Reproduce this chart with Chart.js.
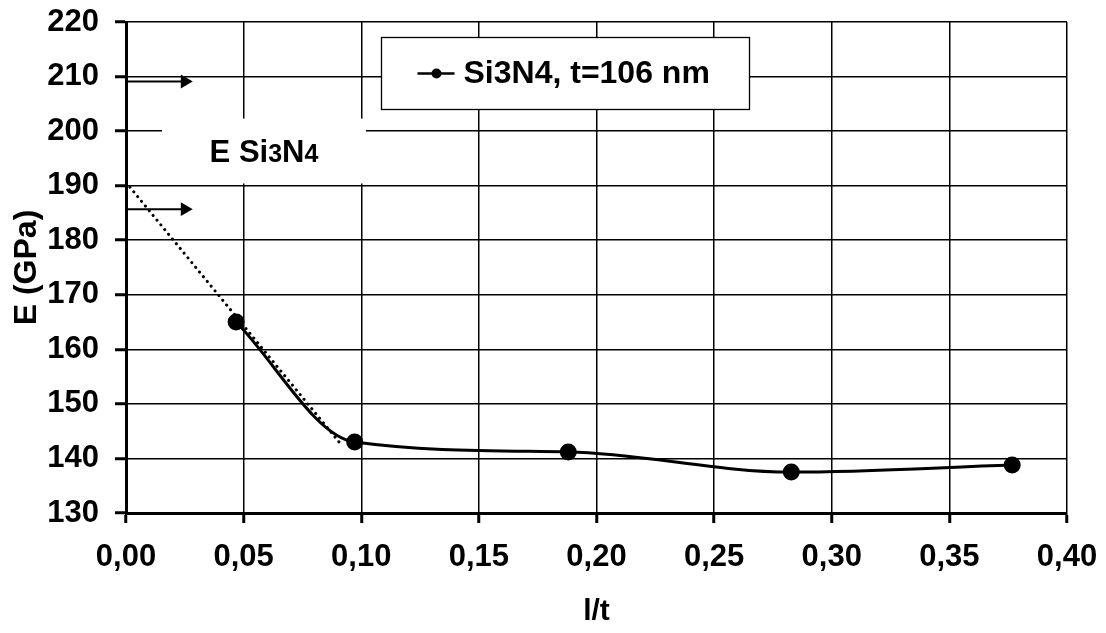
<!DOCTYPE html>
<html>
<head>
<meta charset="utf-8">
<script src="https://cdn.jsdelivr.net/npm/chart.js@4/dist/chart.umd.min.js"></script>
<style>
  html, body { margin: 0; padding: 0; background: #fff; }
  #wrap { width: 1106px; height: 633px; }
</style>
</head>
<body>
<div id="wrap"><canvas id="chart"></canvas></div>
<script>
'use strict';

//data

var xValues = [0.0468, 0.0972, 0.188, 0.2828, 0.3767];
var eValues = [165.0, 143.0, 141.2, 137.5, 138.8];

//dotted fit line (start, end)
var fitX = [0.0, 0.0908];
var fitY = [190.6, 142.9];

//arrows from the axis (E reference values)
var arrowY = [209.1, 185.7];
var arrowX = [0.0, 0.025];

var seriesLabel = 'Si3N4, t=106 nm';

//colors and fonts

var black = "rgb(000,000,000)";
var white = "rgb(255,255,255)";
var fontFamily = "'Liberation Sans', Arial, sans-serif";

function pts(xs, ys) {
    return xs.map(function (x, i) { return { x: x, y: ys[i] }; });
}

//boxes drawn on the plot (legend + note), in data units
var boxes = {
    legend: { x0: 0.1084, x1: 0.2648, y0: 217.2, y1: 204.1 },
    note: { x0: 0.0153, x1: 0.102, y0: 202.3, y1: 190.4 }
};

const boxPlugin = {
    id: 'boxPlugin',
    beforeDatasetsDraw: function (chart) {
        var ctx = chart.ctx;
        var xs = chart.scales.x;
        var ys = chart.scales.y;

        ctx.save();
        ctx.setLineDash([]);

        //note box: "E Si3N4" with smaller 3 and 4
        var n = boxes.note;
        var nx0 = xs.getPixelForValue(n.x0), nx1 = xs.getPixelForValue(n.x1);
        var ny0 = ys.getPixelForValue(n.y0), ny1 = ys.getPixelForValue(n.y1);
        ctx.fillStyle = white;
        ctx.fillRect(nx0, ny0, nx1 - nx0, ny1 - ny0);
        var parts = [['E Si', 31], ['3', 25], ['N', 31], ['4', 25]];
        var total = 0;
        parts.forEach(function (p) {
            ctx.font = "bold " + p[1] + "px " + fontFamily;
            total += ctx.measureText(p[0]).width;
        });
        var tx = (nx0 + nx1) / 2 - total / 2;
        var base = (ny0 + ny1) / 2 + 11;
        ctx.fillStyle = black;
        ctx.textAlign = 'left';
        ctx.textBaseline = 'alphabetic';
        parts.forEach(function (p) {
            ctx.font = "bold " + p[1] + "px " + fontFamily;
            ctx.fillText(p[0], tx, base);
            tx += ctx.measureText(p[0]).width;
        });

        //legend box
        var l = boxes.legend;
        var lx0 = Math.round(xs.getPixelForValue(l.x0)) + 0.5, lx1 = Math.round(xs.getPixelForValue(l.x1)) + 0.5;
        var ly0 = Math.round(ys.getPixelForValue(l.y0)) + 0.5, ly1 = Math.round(ys.getPixelForValue(l.y1)) + 0.5;
        ctx.fillStyle = white;
        ctx.fillRect(lx0, ly0, lx1 - lx0, ly1 - ly0);
        ctx.strokeStyle = black;
        ctx.lineWidth = 1.3;
        ctx.strokeRect(lx0, ly0, lx1 - lx0, ly1 - ly0);
        var cy = (ly0 + ly1) / 2;
        ctx.fillStyle = black;
        ctx.lineWidth = 2.5;
        ctx.beginPath();
        ctx.moveTo(lx0 + 36, cy);
        ctx.lineTo(lx0 + 73, cy);
        ctx.stroke();
        ctx.beginPath();
        ctx.arc(lx0 + 55, cy, 5, 0, Math.PI * 2);
        ctx.fill();
        ctx.font = "bold 32px " + fontFamily;
        ctx.textBaseline = 'middle';
        ctx.fillText(seriesLabel, lx0 + 82, cy + 1);
        ctx.restore();
    }
};

function arrowSet(y) {
    return {
        label: 'arrow',
        data: pts(arrowX, [y, y]),
        borderColor: black,
        backgroundColor: black,
        borderWidth: 2,
        pointStyle: 'triangle',
        rotation: 90,
        pointRadius: [0, 6],
        tension: 0
    };
}

const chartData = {
    datasets: [{
        label: seriesLabel,
        data: pts(xValues, eValues),
        borderColor: black,
        backgroundColor: black,
        borderWidth: 3,
        pointRadius: 7,
        pointHoverRadius: 7,
        cubicInterpolationMode: 'monotone'
    },
    {
        label: 'fit',
        data: pts(fitX, fitY),
        borderColor: black,
        borderWidth: 3,
        borderDash: [0.1, 6],
        borderCapStyle: 'round',
        pointRadius: 0,
        tension: 0
    },
    arrowSet(arrowY[0]),
    arrowSet(arrowY[1])]
};

const chartConfig = {
    type: 'line',
    data: chartData,
    plugins: [boxPlugin],
    options: {
        responsive: true,
        maintainAspectRatio: false,
        animation: false,
        layout: { padding: { top: 22, right: 39, left: 0, bottom: 0 } },
        plugins: {
            legend: { display: false },
            tooltip: { enabled: false },
            title: { display: false }
        },
        scales: {
            x: {
                type: 'linear',
                min: 0,
                max: 0.4,
                grid: { color: black, lineWidth: 1.5, tickLength: 10, tickWidth: 3, tickColor: black },
                border: { display: true, color: black, width: 3 },
                ticks: {
                    stepSize: 0.05,
                    color: black,
                    padding: 16,
                    maxRotation: 0,
                    font: { family: fontFamily, size: 31, weight: 'bold' },
                    callback: function (v) { return v.toFixed(2).replace('.', ','); }
                },
                title: {
                    display: true,
                    text: 'l/t',
                    color: black,
                    padding: { top: 0, bottom: 3 },
                    font: { family: fontFamily, size: 30, weight: 'bold' }
                },
                afterFit: function (scale) {
                    scale.height = 120;
                    scale.paddingLeft = 0;
                    scale.paddingRight = 0;
                }
            },
            y: {
                min: 130,
                max: 220,
                grid: { color: black, lineWidth: 1.5, tickLength: 11, tickWidth: 3, tickColor: black },
                border: { display: true, color: black, width: 3 },
                ticks: {
                    stepSize: 10,
                    color: black,
                    padding: 16,
                    font: { family: fontFamily, size: 31, weight: 'bold' }
                },
                title: {
                    display: true,
                    text: 'E (GPa)',
                    color: black,
                    padding: { top: 8, bottom: 0 },
                    font: { family: fontFamily, size: 32, weight: 'bold' }
                },
                afterFit: function (scale) {
                    scale.width = 126;
                    scale.paddingTop = 0;
                    scale.paddingBottom = 0;
                }
            }
        }
    }
};

window.onload = function () {
    new Chart(document.getElementById('chart'), chartConfig);
};
</script>
</body>
</html>
